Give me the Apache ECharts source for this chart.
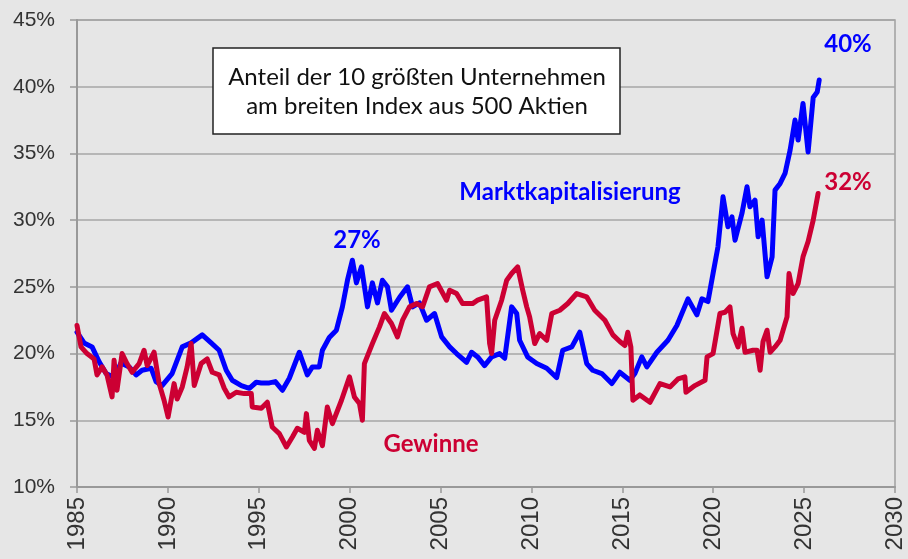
<!DOCTYPE html>
<html>
<head>
    <meta charset="utf-8"/>
    <script src="https://cdn.jsdelivr.net/npm/echarts@6/dist/echarts.min.js"></script>
    <style>
        html, body { margin: 0; padding: 0; background: #e6e6e6; }
        #main { width: 908px; height: 559px; }
    </style>
</head>
<body>
<div id="main"></div>
<script type="text/javascript">
    // Marktkapitalisierung (blau) – Jahr / Anteil in %
    var capYears = [1985.00, 1985.39, 1985.83, 1986.21, 1986.60, 1987.04, 1987.42, 1987.87, 1988.25, 1988.58,
        1989.08, 1989.35, 1989.68, 1990.23, 1990.79, 1991.28, 1991.89, 1992.38, 1992.82, 1993.21,
        1993.54, 1994.04, 1994.48, 1994.86, 1995.14, 1995.58, 1995.91, 1996.30, 1996.68, 1997.23,
        1997.67, 1997.95, 1998.33, 1998.50, 1998.88, 1999.27, 1999.60, 1999.88, 2000.15, 2000.37,
        2000.65, 2000.98, 2001.25, 2001.53, 2001.80, 2002.08, 2002.30, 2002.74, 2003.18, 2003.46,
        2003.84, 2004.23, 2004.67, 2005.06, 2005.50, 2005.88, 2006.43, 2006.71, 2007.04, 2007.42,
        2007.81, 2008.25, 2008.53, 2008.91, 2009.19, 2009.35, 2009.79, 2010.29, 2010.84, 2011.39,
        2011.72, 2012.22, 2012.66, 2013.04, 2013.37, 2013.87, 2014.42, 2014.86, 2015.41, 2015.69,
        2016.07, 2016.35, 2016.90, 2017.51, 2018.00, 2018.61, 2019.10, 2019.38, 2019.71, 2019.99,
        2020.26, 2020.54, 2020.81, 2021.03, 2021.20, 2021.58, 2021.86, 2022.02, 2022.30, 2022.47,
        2022.69, 2022.96, 2023.24, 2023.40, 2023.68, 2023.95, 2024.23, 2024.50, 2024.67, 2024.94,
        2025.22, 2025.50, 2025.72, 2025.83];
    var capValues = [21.6, 20.8, 20.5, 19.4, 18.5, 18.2, 19.3, 19.0, 18.4, 18.75,
        18.9, 17.9, 17.6, 18.5, 20.5, 20.8, 21.4, 20.8, 20.25, 18.75,
        18.0, 17.6, 17.4, 17.85, 17.8, 17.8, 17.9, 17.25, 18.15, 20.1,
        18.4, 19.0, 19.0, 20.25, 21.2, 21.75, 23.5, 25.5, 27.0, 25.3,
        26.5, 23.5, 25.3, 23.8, 25.5, 25.0, 23.25, 24.2, 25.0, 23.5,
        23.8, 22.5, 23.0, 21.25, 20.5, 20.0, 19.35, 20.1, 19.75, 19.1,
        19.75, 20.0, 19.65, 23.5, 23.0, 21.0, 19.75, 19.25, 18.9, 18.2,
        20.25, 20.5, 21.6, 19.25, 18.75, 18.5, 17.75, 18.6, 18.0, 18.5,
        19.75, 19.0, 20.1, 21.0, 22.1, 24.1, 22.9, 24.1, 23.9, 26.0,
        28.0, 31.75, 29.5, 30.25, 28.5, 30.5, 32.5, 31.0, 31.5, 28.75,
        30.0, 25.75, 27.25, 32.25, 32.75, 33.5, 35.25, 37.5, 36.0, 38.75,
        35.1, 39.2, 39.6, 40.5];

    // Gewinne (rot) – Jahr / Anteil in %
    var earnYears = [1985.00, 1985.22, 1985.55, 1985.94, 1986.10, 1986.38, 1986.65, 1986.93, 1987.04, 1987.20,
        1987.48, 1987.75, 1988.03, 1988.42, 1988.69, 1988.86, 1989.24, 1989.52, 1989.79, 1990.01,
        1990.34, 1990.51, 1990.79, 1991.06, 1991.28, 1991.45, 1991.83, 1992.16, 1992.44, 1992.82,
        1993.10, 1993.37, 1993.76, 1994.20, 1994.59, 1994.64, 1995.14, 1995.47, 1995.74, 1996.13,
        1996.52, 1996.85, 1997.12, 1997.51, 1997.62, 1997.78, 1998.06, 1998.22, 1998.50, 1998.77,
        1999.05, 1999.55, 1999.99, 2000.26, 2000.54, 2000.70, 2000.81, 2001.25, 2001.64, 2001.91,
        2002.30, 2002.63, 2002.91, 2003.29, 2003.68, 2004.01, 2004.39, 2004.83, 2005.33, 2005.50,
        2005.88, 2006.21, 2006.76, 2007.04, 2007.53, 2007.70, 2007.81, 2007.98, 2008.36, 2008.64,
        2008.91, 2009.24, 2009.52, 2009.74, 2009.90, 2010.18, 2010.45, 2010.84, 2011.12, 2011.56,
        2012.00, 2012.49, 2013.04, 2013.48, 2014.04, 2014.48, 2014.86, 2015.14, 2015.30, 2015.47,
        2015.58, 2015.96, 2016.52, 2017.07, 2017.62, 2018.06, 2018.44, 2018.50, 2018.99, 2019.55,
        2019.66, 2019.99, 2020.37, 2020.65, 2020.92, 2021.09, 2021.36, 2021.58, 2021.75, 2022.19,
        2022.41, 2022.58, 2022.74, 2022.96, 2023.13, 2023.40, 2023.68, 2024.06, 2024.17, 2024.39,
        2024.67, 2024.94, 2025.22, 2025.50, 2025.77];
    var earnValues = [22.1, 20.5, 20.0, 19.6, 18.4, 19.0, 18.4, 16.75, 19.5, 17.25,
        20.0, 19.25, 18.6, 19.25, 20.25, 19.1, 20.1, 17.75, 16.5, 15.25,
        17.75, 16.6, 17.5, 19.0, 20.75, 17.6, 19.25, 19.6, 18.6, 18.4,
        17.4, 16.75, 17.1, 17.0, 17.0, 16.0, 15.9, 16.35, 14.5, 14.0,
        13.0, 13.75, 14.4, 14.1, 15.5, 13.5, 12.9, 14.25, 13.1, 16.0,
        14.75, 16.5, 18.25, 16.75, 16.25, 15.0, 19.25, 20.75, 22.0, 23.0,
        22.25, 21.25, 22.5, 23.5, 23.75, 23.5, 25.0, 25.25, 24.0, 24.75,
        24.5, 23.75, 23.75, 24.0, 24.25, 20.75, 20.0, 22.5, 24.0, 25.5,
        26.0, 26.5, 24.75, 23.5, 22.75, 20.75, 21.5, 21.0, 23.0, 23.25,
        23.75, 24.5, 24.25, 23.25, 22.5, 21.4, 20.9, 20.6, 21.6, 20.5,
        16.5, 16.9, 16.35, 17.75, 17.5, 18.1, 18.25, 17.1, 17.6, 18.0,
        19.75, 20.0, 23.0, 23.1, 23.5, 21.5, 20.5, 21.9, 20.1, 20.25,
        20.25, 18.75, 20.9, 21.75, 20.1, 20.5, 21.0, 22.75, 26.0, 24.5,
        25.25, 27.25, 28.4, 30.0, 32.0];

    var blue = '#0000ff';
    var red = '#cc0033';

    function zip(xs, ys) {
        var out = [];
        for (var i = 0; i < xs.length; i++) {
            out.push([xs[i], ys[i]]);
        }
        return out;
    }

    var myChart = echarts.init(document.getElementById('main'));

    var option = {
        backgroundColor: '#e6e6e6',
        animation: false,
        grid: {
            left: 77,
            right: 13,
            top: 20,
            bottom: 72,
            show: true,
            backgroundColor: 'transparent',
            borderColor: '#a0a0a0',
            borderWidth: 1.5
        },
        xAxis: {
            type: 'value',
            min: 1985,
            max: 2030,
            interval: 5,
            axisLine: { lineStyle: { color: '#999', width: 2 } },
            axisTick: { show: true, length: 6, lineStyle: { color: '#999', width: 1.5 } },
            splitLine: { show: false },
            axisLabel: {
                rotate: 90,
                margin: 10,
                color: '#333',
                fontSize: 24,
                fontFamily: 'Liberation Sans',
                formatter: function (v) { return String(v); }
            }
        },
        yAxis: {
            type: 'value',
            min: 10,
            max: 45,
            interval: 5,
            axisLine: { show: true, lineStyle: { color: '#999', width: 2 } },
            axisTick: { show: true, length: 7, lineStyle: { color: '#999', width: 1.5 } },
            splitLine: { show: true, lineStyle: { color: '#a6a6a6', width: 1.5 } },
            axisLabel: {
                formatter: '{value}%',
                margin: 22,
                color: '#333',
                fontSize: 21,
                fontFamily: 'Liberation Sans'
            }
        },
        series: [{
            name: 'Marktkapitalisierung',
            type: 'line',
            data: zip(capYears, capValues),
            symbol: 'none',
            lineStyle: { color: blue, width: 5, join: 'round', cap: 'round' },
            z: 2
        }, {
            name: 'Gewinne',
            type: 'line',
            data: zip(earnYears, earnValues),
            symbol: 'none',
            lineStyle: { color: red, width: 5, join: 'round', cap: 'round' },
            z: 3
        }],
        graphic: [{
            type: 'rect',
            shape: { x: 213, y: 48, width: 407, height: 86 },
            style: { fill: '#ffffff', stroke: '#222', lineWidth: 1.5 },
            z: 10
        }, {
            type: 'text',
            x: 417, y: 92,
            style: {
                text: 'Anteil der 10 größten Unternehmen\nam breiten Index aus 500 Aktien',
                font: '24px Lato',
                lineHeight: 29,
                fill: '#111',
                align: 'center',
                verticalAlign: 'middle'
            },
            z: 11
        }, {
            type: 'text', x: 570, y: 192,
            style: { text: 'Marktkapitalisierung', font: 'bold 24px Lato', fill: blue, align: 'center', verticalAlign: 'middle' },
            z: 11
        }, {
            type: 'text', x: 357, y: 240,
            style: { text: '27%', font: 'bold 24px Lato', fill: blue, align: 'center', verticalAlign: 'middle' },
            z: 11
        }, {
            type: 'text', x: 848, y: 44,
            style: { text: '40%', font: 'bold 24px Lato', fill: blue, align: 'center', verticalAlign: 'middle' },
            z: 11
        }, {
            type: 'text', x: 848, y: 182,
            style: { text: '32%', font: 'bold 24px Lato', fill: red, align: 'center', verticalAlign: 'middle' },
            z: 11
        }, {
            type: 'text', x: 431, y: 444,
            style: { text: 'Gewinne', font: 'bold 24px Lato', fill: red, align: 'center', verticalAlign: 'middle' },
            z: 11
        }]
    };

    myChart.setOption(option);
</script>
</body>
</html>
